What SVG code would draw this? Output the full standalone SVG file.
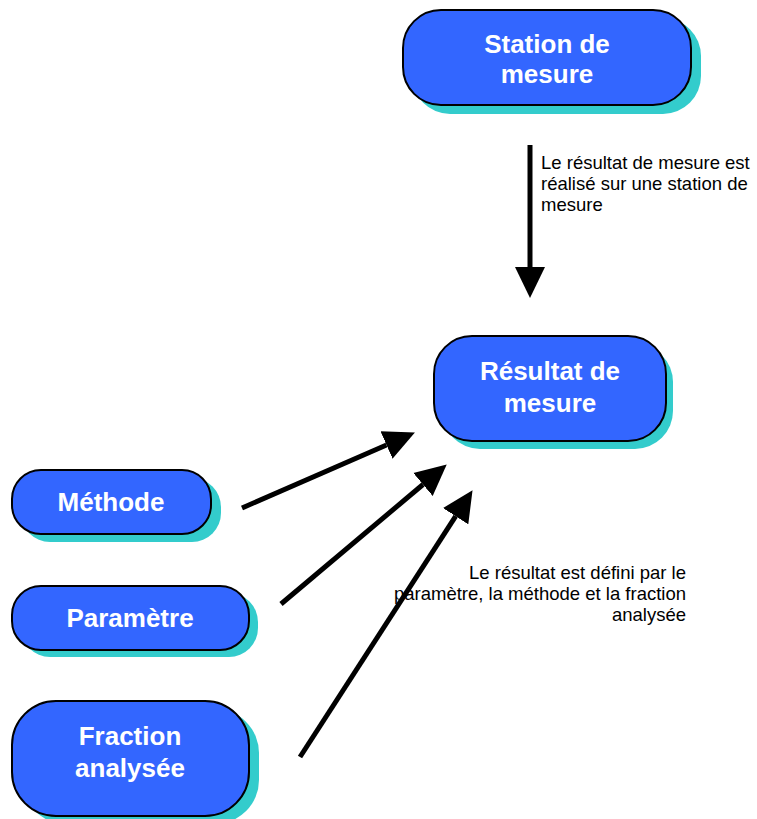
<svg xmlns="http://www.w3.org/2000/svg" width="757" height="819" viewBox="0 0 757 819">
<style>
.shadow{fill:#33CCCC;}
.box{fill:#3366FF;stroke:#000;stroke-width:2;}
.lbl{font-family:"Liberation Sans",Arial,sans-serif;font-weight:bold;font-size:26px;fill:#fff;text-anchor:middle;}
.note{font-family:"Liberation Sans",Arial,sans-serif;font-size:18.5px;fill:#000;}
.conn{stroke:#000;stroke-width:5;fill:none;marker-end:url(#ah);}
</style>
<defs>
<marker id="ah" markerUnits="userSpaceOnUse" markerWidth="32" markerHeight="32" viewBox="0 -16 32 32" refX="0" refY="0" orient="auto">
<path d="M0,-15 L31,0 L0,15 Z" fill="#000"/>
</marker>
</defs>
<rect width="757" height="819" fill="#fff"/>
<g id="station">
<rect class="shadow" x="412" y="18" width="289" height="96" rx="38"/>
<rect class="box" x="403" y="10" width="288" height="95" rx="38"/>
<text class="lbl" x="547" y="53">Station de</text>
<text class="lbl" x="547" y="83">mesure</text>
</g>
<g id="resultat">
<rect class="shadow" x="442" y="344" width="231" height="105" rx="38"/>
<rect class="box" x="434" y="336" width="232" height="105" rx="38"/>
<text class="lbl" x="550" y="380">Résultat de</text>
<text class="lbl" x="550" y="412">mesure</text>
</g>
<g id="methode">
<rect class="shadow" x="21" y="478" width="200" height="64" rx="29"/>
<rect class="box" x="12" y="470" width="199" height="64" rx="29"/>
<text class="lbl" x="111" y="511">Méthode</text>
</g>
<g id="parametre">
<rect class="shadow" x="21" y="593" width="237" height="64" rx="29"/>
<rect class="box" x="12" y="586" width="237" height="64" rx="29"/>
<text class="lbl" x="130" y="627">Paramètre</text>
</g>
<g id="fraction">
<rect class="shadow" x="22" y="709" width="237" height="115" rx="44"/>
<rect class="box" x="12" y="701" width="237" height="115" rx="44"/>
<text class="lbl" x="130" y="745">Fraction</text>
<text class="lbl" x="130" y="777">analysée</text>
</g>
<g id="connectors">
<line class="conn" x1="530" y1="145" x2="530" y2="267"/>
<line class="conn" x1="242" y1="508" x2="386.5" y2="445"/>
<line class="conn" x1="281" y1="604" x2="423" y2="484.5"/>
<line class="conn" x1="300" y1="757" x2="455.7" y2="516.2"/>
</g>
<g id="notes">
<text class="note" x="541" y="169">Le résultat de mesure est</text>
<text class="note" x="541" y="190">réalisé sur une station de</text>
<text class="note" x="541" y="211">mesure</text>
<text class="note" x="686" y="579" text-anchor="end">Le résultat est défini par le</text>
<text class="note" x="686" y="600" text-anchor="end">paramètre, la méthode et la fraction</text>
<text class="note" x="686" y="621" text-anchor="end">analysée</text>
</g>
</svg>
